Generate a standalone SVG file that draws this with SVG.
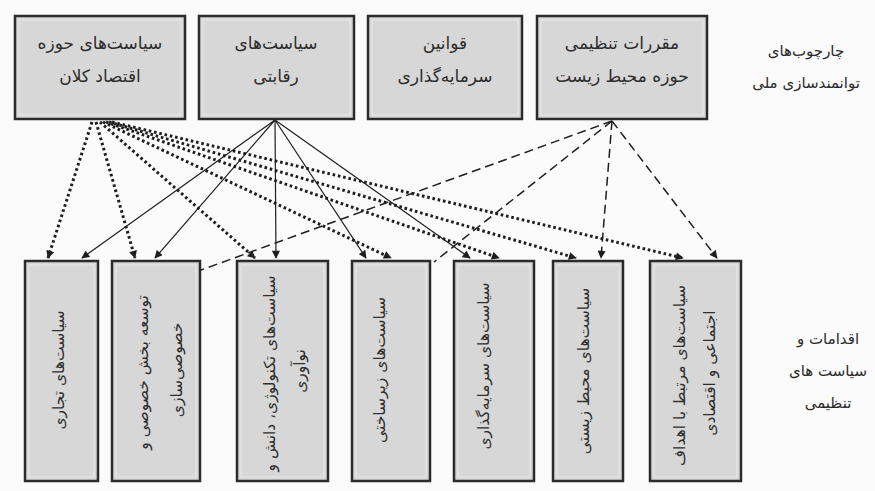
<svg xmlns="http://www.w3.org/2000/svg" width="875" height="491" viewBox="0 0 875 491">
  <defs>
    <marker id="head" viewBox="0 0 10 10" refX="9" refY="5" markerWidth="9" markerHeight="8" markerUnits="userSpaceOnUse" orient="auto">
      <path d="M0,0 L10,5 L0,10 z" fill="#1e1e1e"/>
    </marker>
    <style>
      .box { fill: #d7d7d7; stroke: #2b2b2b; stroke-width: 2.5; }
      .inner { fill: none; stroke: #e9e9e9; stroke-width: 1; }
      .t { font-family: "DejaVu Sans", "Noto Sans", sans-serif; font-size: 17px; fill: #2c2c2c; text-anchor: middle; }
      .v { font-family: "DejaVu Sans", "Noto Sans", sans-serif; font-size: 15.5px; fill: #2f2f2f; text-anchor: middle; dominant-baseline: central; }
      .lbl { font-family: "DejaVu Sans", "Noto Sans", sans-serif; font-size: 15px; fill: #2a2a2a; text-anchor: middle; }
      .dot { fill: none; stroke: #1e1e1e; stroke-width: 3; stroke-dasharray: 2.6 2.8; }
      .solid { fill: none; stroke: #1e1e1e; stroke-width: 1.2; }
      .dash { fill: none; stroke: #1e1e1e; stroke-width: 1.5; stroke-dasharray: 9 5; }
    </style>
  </defs>

  <rect x="0" y="0" width="875" height="491" fill="#fbfbfb"/>

  <!-- national enabling frameworks (top row) -->
  <g id="n-macro">
    <rect class="box" x="15" y="16" width="170" height="103"/>
    <rect class="inner" x="19" y="20" width="162" height="95"/>
    <text class="t" x="100" y="49">سیاست‌های حوزه</text>
    <text class="t" x="100" y="82">اقتصاد کلان</text>
  </g>
  <g id="n-competition">
    <rect class="box" x="199" y="16" width="155" height="103"/>
    <rect class="inner" x="203" y="20" width="147" height="95"/>
    <text class="t" x="276" y="49">سیاست‌های</text>
    <text class="t" x="276" y="82">رقابتی</text>
  </g>
  <g id="n-investlaw">
    <rect class="box" x="368" y="16" width="154" height="103"/>
    <rect class="inner" x="372" y="20" width="146" height="95"/>
    <text class="t" x="445" y="49">قوانین</text>
    <text class="t" x="445" y="82">سرمایه‌گذاری</text>
  </g>
  <g id="n-envreg">
    <rect class="box" x="537" y="16" width="170" height="103"/>
    <rect class="inner" x="541" y="20" width="162" height="95"/>
    <text class="t" x="622" y="49">مقررات تنظیمی</text>
    <text class="t" x="622" y="82">حوزه محیط زیست</text>
  </g>

  <g id="label-frameworks">
    <text class="lbl" x="806" y="56">چارچوب‌های</text>
    <text class="lbl" x="806" y="88">توانمندسازی ملی</text>
  </g>

  <!-- connectors -->
  <g id="connectors">
    <!-- macroeconomic policies: dotted -->
    <line class="dot" x1="92" y1="122" x2="48" y2="258" marker-end="url(#head)"/>
    <line class="dot" x1="96" y1="122" x2="135" y2="258" marker-end="url(#head)"/>
    <line class="dot" x1="100" y1="122" x2="255" y2="258" marker-end="url(#head)"/>
    <line class="dot" x1="103" y1="122" x2="391" y2="258" marker-end="url(#head)"/>
    <line class="dot" x1="106" y1="122" x2="499" y2="258" marker-end="url(#head)"/>
    <line class="dot" x1="109" y1="122" x2="576" y2="258" marker-end="url(#head)"/>
    <line class="dot" x1="112" y1="122" x2="683" y2="258" marker-end="url(#head)"/>
    <!-- competition policies: solid -->
    <line class="solid" x1="275" y1="120" x2="82" y2="258" marker-end="url(#head)"/>
    <line class="solid" x1="275" y1="120" x2="155" y2="258" marker-end="url(#head)"/>
    <line class="solid" x1="275" y1="120" x2="276" y2="258" marker-end="url(#head)"/>
    <line class="solid" x1="275" y1="120" x2="366" y2="258" marker-end="url(#head)"/>
    <line class="solid" x1="275" y1="120" x2="470" y2="258" marker-end="url(#head)"/>
    <!-- environmental regulations: dashed -->
    <line class="dash" x1="612" y1="121" x2="201" y2="270"/>
    <line class="dash" x1="612" y1="121" x2="434" y2="262"/>
    <line class="dash" x1="612" y1="121" x2="601" y2="258" marker-end="url(#head)"/>
    <line class="dash" x1="612" y1="121" x2="717" y2="258" marker-end="url(#head)"/>
  </g>

  <!-- regulatory measures and policies (bottom row) -->
  <g id="a-trade">
    <rect class="box" x="25" y="261" width="73" height="220"/>
    <rect class="inner" x="29" y="265" width="65" height="212"/>
    <text class="v" transform="translate(59,370) rotate(-90)">سیاست‌های تجاری</text>
  </g>
  <g id="a-private">
    <rect class="box" x="112" y="261" width="88" height="220"/>
    <rect class="inner" x="116" y="265" width="80" height="212"/>
    <text class="v" transform="translate(160,370) rotate(-90)">
      <tspan x="0" y="-17">توسعه بخش خصوصی و</tspan>
      <tspan x="0" y="17">خصوصی‌سازی</tspan>
    </text>
  </g>
  <g id="a-tech">
    <rect class="box" x="237" y="261" width="91" height="220"/>
    <rect class="inner" x="241" y="265" width="83" height="212"/>
    <text class="v" transform="translate(285,371) rotate(-90)">
      <tspan x="0" y="-15">سیاست‌های تکنولوژی، دانش و</tspan>
      <tspan x="0" y="15">نوآوری</tspan>
    </text>
  </g>
  <g id="a-infra">
    <rect class="box" x="352" y="261" width="78" height="220"/>
    <rect class="inner" x="356" y="265" width="70" height="212"/>
    <text class="v" transform="translate(380,370) rotate(-90)">سیاست‌های زیرساختی</text>
  </g>
  <g id="a-invest">
    <rect class="box" x="454" y="261" width="80" height="220"/>
    <rect class="inner" x="458" y="265" width="72" height="212"/>
    <text class="v" transform="translate(484,366) rotate(-90)">سیاست‌های سرمایه‌گذاری</text>
  </g>
  <g id="a-env">
    <rect class="box" x="553" y="261" width="70" height="220"/>
    <rect class="inner" x="557" y="265" width="62" height="212"/>
    <text class="v" transform="translate(584,371) rotate(-90)">سیاست‌های محیط زیستی</text>
  </g>
  <g id="a-social">
    <rect class="box" x="650" y="261" width="91" height="220"/>
    <rect class="inner" x="654" y="265" width="83" height="212"/>
    <text class="v" transform="translate(695,373) rotate(-90)">
      <tspan x="0" y="-15">سیاست‌های مرتبط با اهداف</tspan>
      <tspan x="0" y="15">اجتماعی و اقتصادی</tspan>
    </text>
  </g>

  <g id="label-measures">
    <text class="lbl" x="828" y="344">اقدامات و</text>
    <text class="lbl" x="828" y="376">سیاست های</text>
    <text class="lbl" x="828" y="408">تنظیمی</text>
  </g>
</svg>
